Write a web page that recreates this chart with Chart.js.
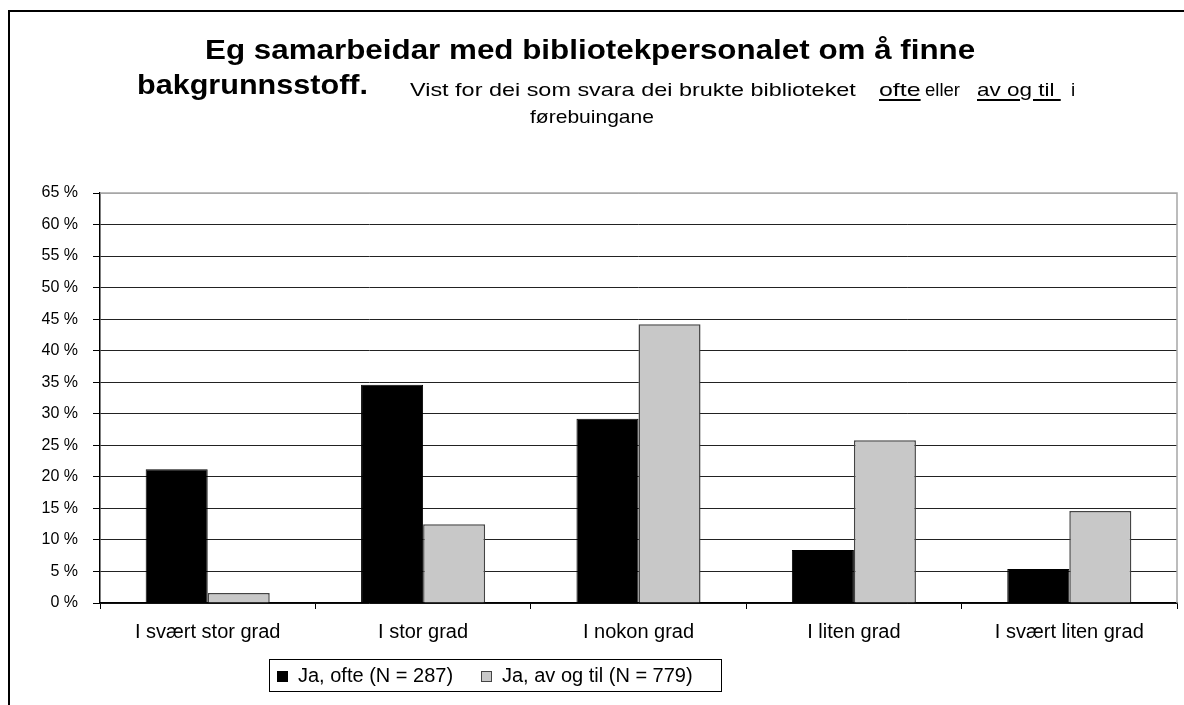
<!DOCTYPE html>
<html>
<head>
<meta charset="utf-8">
<script src="https://cdn.jsdelivr.net/npm/chart.js@4"></script>
<style>
  html, body { margin: 0; padding: 0; background: #fff; }
  body { width: 1184px; height: 705px; position: relative; overflow: hidden; font-family: Arial, "Liberation Sans", sans-serif; }
  #frame { position: absolute; left: 8px; top: 10px; width: 1300px; height: 800px; border-left: 2px solid #000; border-top: 2px solid #000; }
  #wrap { position: absolute; left: 0; top: 0; width: 1184px; height: 705px; }
  .t { position: absolute; white-space: nowrap; color: #000; transform-origin: 0 0; line-height: 1; }
  .b { font-weight: bold; }
  .u { text-decoration: underline; text-decoration-thickness: 2px; text-underline-offset: 3px; }
</style>
</head>
<body>
<div id="frame"></div>
<div id="wrap"><canvas id="chart"></canvas></div>

<div class="t b" style="left:205px; top:37px; font-size:27px;" data-w="770">Eg  samarbeidar med bibliotekpersonalet om å finne</div>
<div class="t b" style="left:137px; top:72px; font-size:27px;" data-w="231">bakgrunnsstoff.</div>
<div class="t" style="left:410px; top:80px; font-size:19px;" data-w="446">Vist for dei som svara dei brukte biblioteket</div>
<div class="t u" style="left:879px; top:80px; font-size:19px;" data-w="42">ofte</div>
<div class="t" style="left:925px; top:80px; font-size:19px;" data-w="35">eller</div>
<div class="t u" style="left:977px; top:80px; font-size:19px;" data-w="84">av og til&nbsp;</div>
<div class="t" style="left:1071px; top:80px; font-size:19px;">i</div>
<div class="t" style="left:530px; top:107px; font-size:19px;" data-w="124">førebuingane</div>

<script>
// squeeze/stretch text blocks to the widths seen in the picture
document.querySelectorAll('.t[data-w]').forEach(el => {
  const w = +el.dataset.w;
  el.style.transform = 'scaleX(' + (w / el.offsetWidth) + ')';
});

const categories = ['I svært stor grad', 'I stor grad', 'I nokon grad', 'I liten grad', 'I svært liten grad'];
const seriesNames = ['Ja, ofte (N = 287)', 'Ja, av og til (N = 779)'];
const ofte = [21.2, 34.6, 29.2, 8.4, 5.4];
const avOgTil = [1.6, 12.5, 44.2, 25.8, 14.6];
const yMin = 0, yMax = 65, yStep = 5;

const frameLines = {
  id: 'frameLines',
  afterDatasetsDraw(chart) {
    const { ctx, chartArea: a } = chart;
    ctx.save();
    ctx.strokeStyle = '#a6a6a6';
    ctx.lineWidth = 1.5;
    ctx.beginPath();
    ctx.moveTo(a.left, a.top);
    ctx.lineTo(a.right, a.top);
    ctx.lineTo(a.right, a.bottom);
    ctx.stroke();
    ctx.restore();
  }
};

const boxLegend = {
  id: 'boxLegend',
  afterDraw(chart) {
    const ctx = chart.ctx;
    const x0 = 269, y0 = 659, w = 452, h = 32;
    ctx.save();
    ctx.fillStyle = '#fff';
    ctx.fillRect(x0, y0, w, h);
    ctx.strokeStyle = '#000';
    ctx.lineWidth = 1;
    ctx.strokeRect(x0 + 0.5, y0 + 0.5, w, h);
    ctx.font = '20px Arial, "Liberation Sans", sans-serif';
    ctx.textBaseline = 'middle';
    const starts = [277, 481];
    chart.data.datasets.forEach((ds, i) => {
      const sx = starts[i];
      ctx.fillStyle = ds.backgroundColor;
      ctx.fillRect(sx, 671, 11, 11);
      ctx.strokeStyle = ds.borderColor;
      ctx.strokeRect(sx + 0.5, 671.5, 10, 10);
      ctx.fillStyle = '#000';
      ctx.fillText(ds.label, sx + 21, 676);
    });
    ctx.restore();
  }
};

new Chart(document.getElementById('chart'), {
  type: 'bar',
  data: {
    labels: categories,
    datasets: [
      { label: seriesNames[0], data: ofte, backgroundColor: '#000000', borderColor: '#000000', borderWidth: 1 },
      { label: seriesNames[1], data: avOgTil, backgroundColor: '#c8c8c8', borderColor: '#444444', borderWidth: 1.5 }
    ]
  },
  options: {
    responsive: true,
    maintainAspectRatio: false,
    animation: false,
    layout: { padding: { top: 193, left: 0, right: 7, bottom: 42 } },
    datasets: { bar: { categoryPercentage: 0.576, barPercentage: 1 } },
    plugins: { legend: { display: false }, tooltip: { enabled: false } },
    scales: {
      x: {
        afterFit: s => { s.height = 60; },
        grid: { drawOnChartArea: false, drawTicks: true, tickLength: 6, color: '#000', offset: true },
        border: { color: '#000', width: 1.5 },
        ticks: { color: '#000', padding: 11, font: { family: 'Arial, "Liberation Sans", sans-serif', size: 20 } }
      },
      y: {
        min: yMin, max: yMax,
        afterFit: s => { s.width = 100; },
        grid: { color: c => c.tick && c.tick.value === yMax ? '#a6a6a6' : '#222', lineWidth: 1, tickLength: 7, tickColor: '#000' },
        border: { color: '#000', width: 1.5 },
        ticks: { stepSize: yStep, color: '#000', padding: 15, font: { family: 'Arial, "Liberation Sans", sans-serif', size: 16 }, callback: v => v + ' %' }
      }
    }
  },
  plugins: [frameLines, boxLegend]
});
</script>
</body>
</html>
